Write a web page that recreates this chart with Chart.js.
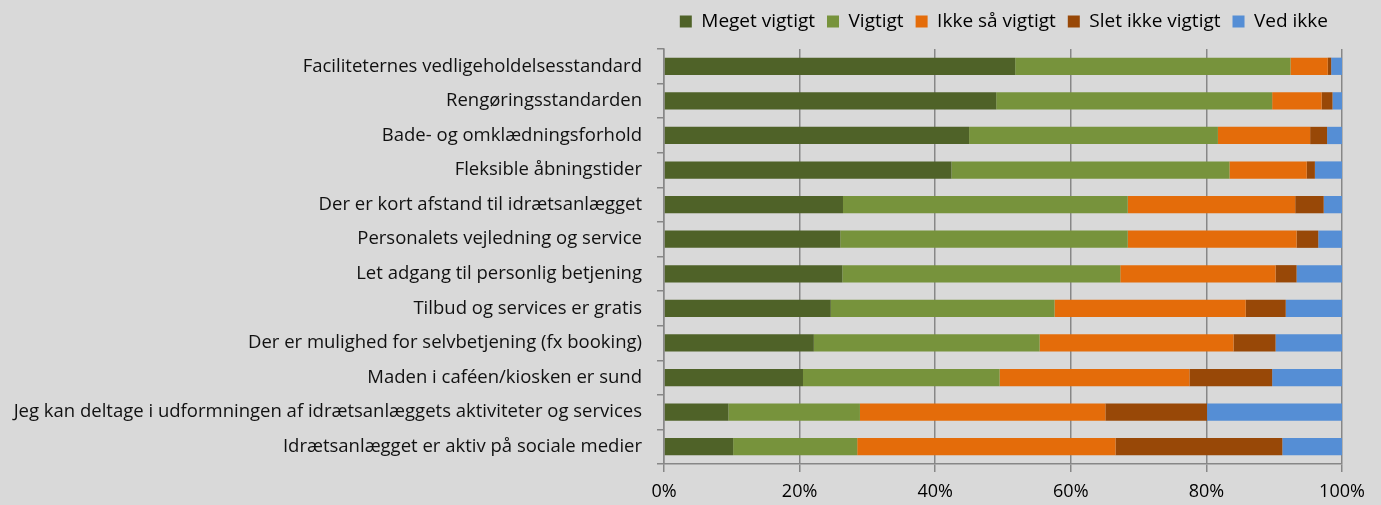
<!DOCTYPE html>
<html lang="da">
<head>
  <meta charset="UTF-8" />
  <title>Vigtighed af forhold</title>
  <script src="https://cdn.jsdelivr.net/npm/chart.js"></script>
  <style>
    html, body { margin: 0; padding: 0; background: #d9d9d9; }
    #wrap { width: 1381px; height: 505px; }
  </style>
</head>
<body>
  <div id="wrap"><canvas id="chart"></canvas></div>

  <script>
    const categories = [
      'Faciliteternes vedligeholdelsesstandard',
      'Rengøringsstandarden',
      'Bade- og omklædningsforhold',
      'Fleksible åbningstider',
      'Der er kort afstand til idrætsanlægget',
      'Personalets vejledning og service',
      'Let adgang til personlig betjening',
      'Tilbud og services er gratis',
      'Der er mulighed for selvbetjening (fx booking)',
      'Maden i caféen/kiosken er sund',
      'Jeg kan deltage i udformningen af idrætsanlæggets aktiviteter og services',
      'Idrætsanlægget er aktiv på sociale medier'
    ];

    // procent pr. svar, læst af figuren
    const megetVigtigt = [51.8, 49.0, 45.0, 42.4, 26.4, 26.0, 26.3, 24.6, 22.1, 20.5, 9.5, 10.2];
    const vigtigt      = [40.6, 40.7, 36.7, 41.0, 42.0, 42.4, 41.0, 33.0, 33.3, 29.0, 19.4, 18.3];
    const ikkeSaa      = [5.5, 7.3, 13.6, 11.4, 24.7, 24.9, 22.9, 28.2, 28.6, 28.0, 36.2, 38.1];
    const sletIkke     = [0.5, 1.6, 2.5, 1.2, 4.2, 3.2, 3.1, 5.9, 6.2, 12.2, 15.0, 24.6];
    const vedIkke      = [1.6, 1.4, 2.2, 4.0, 2.7, 3.5, 6.7, 8.3, 9.8, 10.3, 19.9, 8.8];

    const xTicks = [0, 20, 40, 60, 80, 100];

    const FONT = 'Open Sans';
    const gridGrey = '#878787';

    const ds = (label, data, color) => ({
      label,
      data,
      backgroundColor: color,
      borderWidth: 0,
      barPercentage: 0.5,
      categoryPercentage: 1.0
    });

    // legenden: fast højde og flyttet ind fra højre kant
    const legendFix = {
      id: 'legendFix',
      beforeInit(chart) {
        const lg = chart.legend;
        const fit = lg.fit;
        lg.fit = function () {
          fit.call(this);
          this.height = 49;
        };
      },
      afterLayout(chart) {
        chart.legend.right = chart.width - 41;
      }
    };

    new Chart(document.getElementById('chart'), {
      type: 'bar',
      data: {
        labels: categories,
        datasets: [
          ds('Meget vigtigt', megetVigtigt, '#4f6228'),
          ds('Vigtigt', vigtigt, '#77933c'),
          ds('Ikke så vigtigt', ikkeSaa, '#e46c0a'),
          ds('Slet ikke vigtigt', sletIkke, '#984807'),
          ds('Ved ikke', vedIkke, '#558ed5')
        ]
      },
      options: {
        indexAxis: 'y',
        responsive: true,
        maintainAspectRatio: false,
        animation: false,
        layout: { padding: 0 },
        plugins: {
          tooltip: { enabled: false },
          legend: {
            position: 'top',
            align: 'end',
            labels: {
              boxWidth: 12,
              boxHeight: 12,
              padding: 12,
              color: '#000',
              font: { family: FONT, size: 19 }
            }
          }
        },
        scales: {
          x: {
            stacked: true,
            min: 0,
            max: 100,
            afterBuildTicks: (scale) => {
              scale.ticks = xTicks.map(v => ({ value: v }));
            },
            afterFit: (scale) => {
              scale.height = 41;
              scale.paddingRight = 39;
            },
            ticks: {
              padding: 9,
              color: '#000',
              font: { family: FONT, size: 18 },
              callback: (v) => v + '%'
            },
            grid: {
              color: gridGrey,
              lineWidth: 1.5,
              tickLength: 8
            },
            border: { color: gridGrey, width: 1.5 }
          },
          y: {
            stacked: true,
            afterFit: (scale) => { scale.width = 664; },
            ticks: {
              padding: 15,
              color: '#111',
              font: { family: FONT, size: 18.5 }
            },
            grid: {
              drawOnChartArea: false,
              color: gridGrey,
              lineWidth: 1.5,
              tickLength: 7
            },
            border: { color: gridGrey, width: 1.5 }
          }
        }
      },
      plugins: [legendFix]
    });
  </script>
</body>
</html>
